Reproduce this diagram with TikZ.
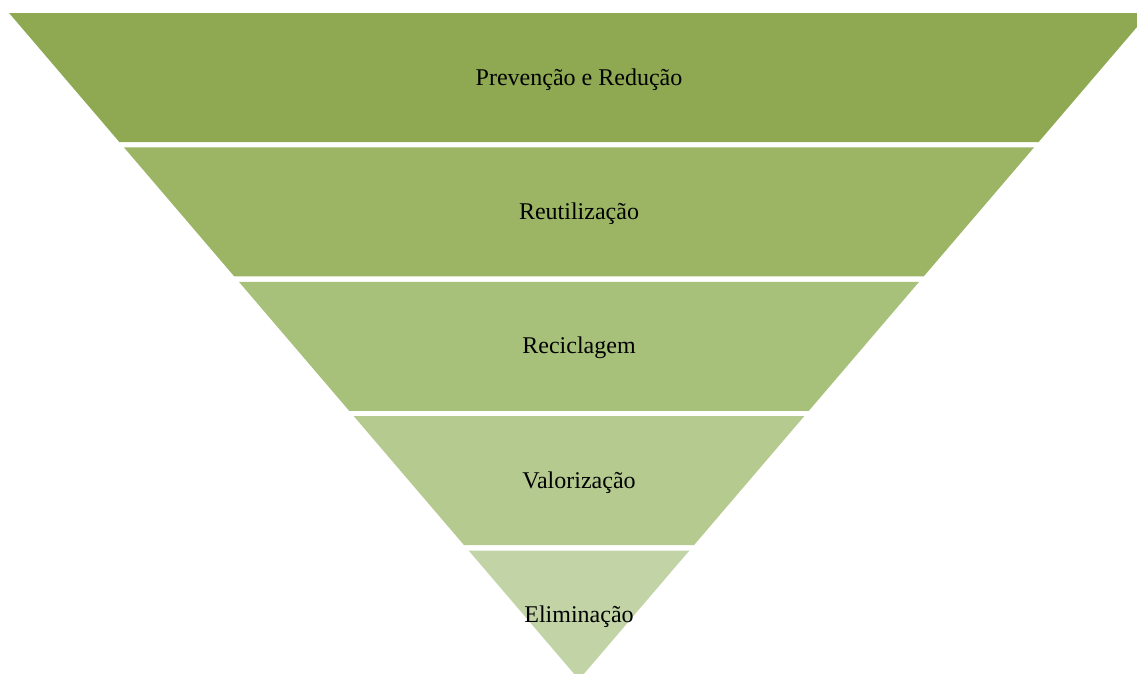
\documentclass[tikz,border=0pt]{standalone}
\usepackage{fontspec}
\setmainfont{Liberation Serif}
\definecolor{bandA}{RGB}{142,169,82}
\definecolor{bandB}{RGB}{155,181,101}
\definecolor{bandC}{RGB}{168,193,122}
\definecolor{bandD}{RGB}{181,202,143}
\definecolor{bandE}{RGB}{194,211,166}
\tikzset{lbl/.style={font=\fontsize{24}{28}\selectfont, text=black, inner sep=0pt}}
\begin{document}
\begin{tikzpicture}[x=1pt,y=-1pt]
\useasboundingbox (0,0) rectangle (1137,673);
\begin{scope}
\clip (0,0) rectangle (1137,673);
\def\cx{579}
\def\sl{0.855}
\def\ytop{13}
\def\per{134.4}
\def\hh{129}
\foreach \i/\col in {0/bandA,1/bandB,2/bandC,3/bandD,4/bandE}{
  \pgfmathsetmacro{\ya}{\ytop+\i*\per}
  \pgfmathsetmacro{\yb}{\ya+\hh}
  \pgfmathsetmacro{\wa}{\sl*(\ytop+4*\per+\hh-\ya)}
  \pgfmathsetmacro{\wb}{max(\sl*(\ytop+4*\per+\hh-\yb),0)}
  \fill[\col] (\cx-\wa,\ya) -- (\cx+\wa,\ya) -- (\cx+\wb,\yb) -- (\cx-\wb,\yb) -- cycle;
}
\end{scope}
\node[lbl] (n1) at (579,79.5) {Prevenção e Redução};
\node[lbl] (n2) at (579,213.5) {Reutilização};
\node[lbl] (n3) at (579,348) {Reciclagem};
\node[lbl] (n4) at (579,482.5) {Valorização};
\node[lbl] (n5) at (579,617) {Eliminação};
\end{tikzpicture}
\end{document}
